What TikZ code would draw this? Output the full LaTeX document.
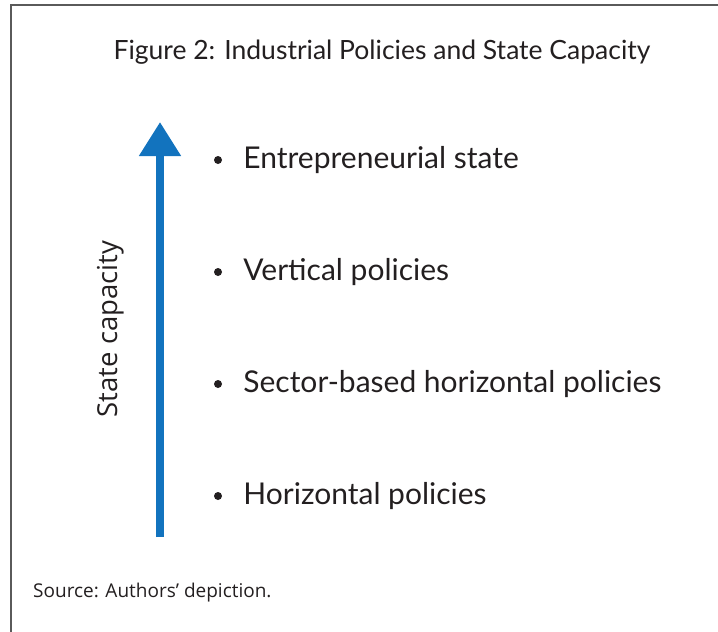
\documentclass[tikz,border=0pt]{standalone}
\usepackage{fontspec}
\setmainfont{Lato}
\newfontfamily\capfont{Open Sans}
\usetikzlibrary{positioning,arrows.meta}
\definecolor{capblue}{HTML}{1273BE}
\definecolor{txtgray}{HTML}{231F20}
\definecolor{framegray}{HTML}{5A5A5A}

\begin{document}
\begin{tikzpicture}[x=1pt,y=-1pt,
    item/.style={anchor=west,text=txtgray,inner sep=0pt,
      font=\fontsize{30}{36}\selectfont},
    bulletdot/.style={circle,fill=txtgray,inner sep=0pt,minimum size=8pt}]
  \useasboundingbox (0,0) rectangle (718,632);
  % open frame, left and top only
  \draw[framegray,line width=1.5pt] (11,632) -- (11,5) -- (718,5);
  \node[text=txtgray,font=\fontsize{26.5}{30}\selectfont] (title) at (382,52)
    {Figure 2: Industrial Policies and State Capacity};
  % capacity arrow
  \coordinate (low) at (160,537);
  \coordinate (high) at (160,122);
  \draw[capblue,line width=8pt,-{Triangle[length=34pt,width=40pt]}] (low) -- (high);
  \node[rotate=90,text=txtgray,inner sep=0pt,font=\capfont\fontsize{27.5}{32}\selectfont] (cap)
    at (111,329) {State capacity};
  % policy list
  \foreach \name/\yy/\txt in {ent/160/Entrepreneurial state,
      vert/272/Vertical policies,
      sect/384/Sector-based horizontal policies,
      horiz/496/Horizontal policies}{
    \node[bulletdot] (\name dot) at (218,\yy) {};
    \node[item,right=21pt of \name dot] (\name) {\txt};
  }
  \node[anchor=west,text=txtgray,inner sep=0pt,font=\capfont\fontsize{19}{22}\selectfont] (src)
    at (33,593) {Source: Authors’ depiction.};
\end{tikzpicture}
\end{document}
